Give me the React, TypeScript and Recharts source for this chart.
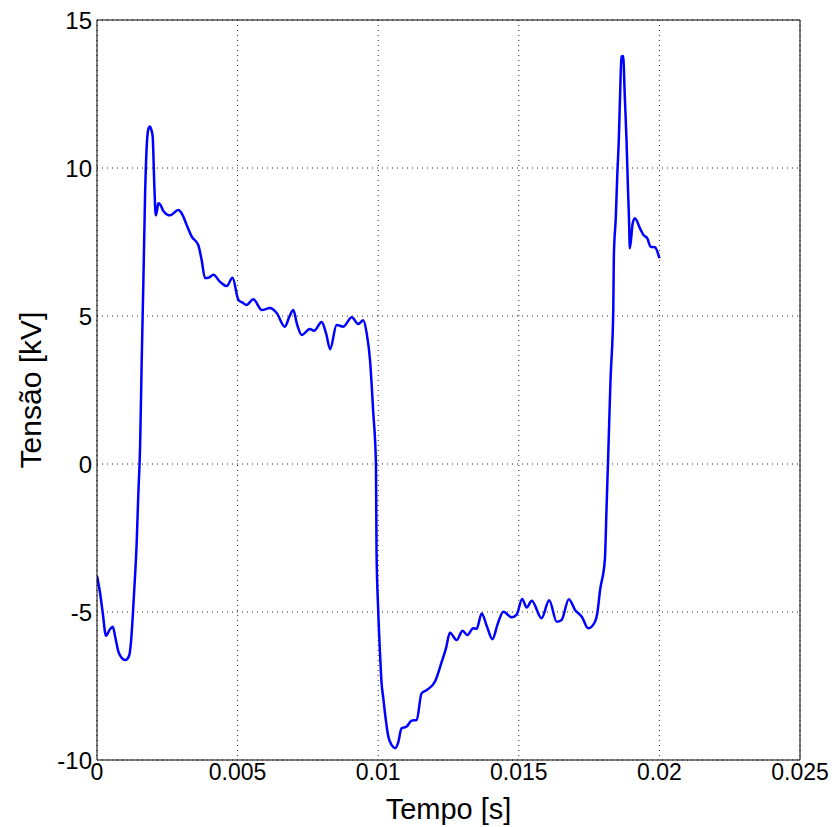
import {
  LineChart,
  Line,
  XAxis,
  YAxis,
  CartesianGrid,
  ReferenceLine,
} from "recharts";

// tempo [s]
const tempo = [
  0, 0.0001, 0.0002, 0.00032, 0.00045, 0.00056, 0.00066, 0.00076, 0.00088, 0.001,
  0.00108, 0.00115, 0.00121, 0.00127, 0.00134, 0.00141, 0.00147, 0.00153, 0.00159, 0.00165,
  0.00171, 0.00179, 0.00184, 0.00188, 0.00193, 0.00198, 0.00204, 0.00209, 0.00214, 0.00218,
  0.00226, 0.00236, 0.0026, 0.00289, 0.00305, 0.00319, 0.00337, 0.0036, 0.00372, 0.00384,
  0.00398, 0.00414, 0.00437, 0.00461, 0.00482, 0.00503, 0.00518, 0.00532, 0.00556, 0.00586,
  0.00615, 0.00639, 0.00668, 0.00685, 0.00698, 0.00712, 0.00728, 0.00757, 0.00772, 0.00799,
  0.00815, 0.00829, 0.00852, 0.00876, 0.00906, 0.00929, 0.00947, 0.00959, 0.00971, 0.00982,
  0.00992, 0.00994, 0.01, 0.01006, 0.01012, 0.01018, 0.01024, 0.01036, 0.01048, 0.0106,
  0.01071, 0.01083, 0.01101, 0.01119, 0.01137, 0.01154, 0.01172, 0.01202, 0.01226, 0.01241,
  0.01255, 0.01279, 0.013, 0.01317, 0.01338, 0.0135, 0.01368, 0.01387, 0.01406, 0.01425,
  0.01445, 0.01475, 0.01492, 0.01512, 0.01528, 0.01546, 0.01581, 0.01608, 0.01635, 0.01652,
  0.01678, 0.017, 0.01724, 0.01747, 0.01771, 0.01779, 0.01789, 0.01806, 0.01812, 0.01818,
  0.01826, 0.01836, 0.01838, 0.01845, 0.0185, 0.01856, 0.0186, 0.01865, 0.01871, 0.01877,
  0.01883, 0.01888, 0.01892, 0.01895, 0.01905, 0.01913, 0.01931, 0.01943, 0.01957, 0.01969,
  0.01984, 0.02,
];

// tensão [kV]
const tensao = [
  -3.78, -4.3, -5.0, -5.8, -5.6, -5.5, -5.9, -6.34, -6.55, -6.62,
  -6.58, -6.45, -6.0, -5.16, -4.0, -2.68, -1.0, 0.5, 3.5, 6.2,
  9.1, 11.06, 11.35, 11.4, 11.3, 11.06, 9.37, 8.4, 8.6, 8.81,
  8.75, 8.55, 8.4, 8.58, 8.4, 8.07, 7.68, 7.4, 6.9, 6.28,
  6.3, 6.39, 6.16, 6.01, 6.29, 5.54, 5.45, 5.37, 5.57, 5.2,
  5.27, 5.1, 4.64, 5.0, 5.2, 4.7, 4.36, 4.56, 4.5, 4.8,
  4.4, 3.88, 4.7, 4.64, 4.96, 4.73, 4.86, 4.42, 3.5, 1.8,
  0.0, -2.9, -4.93, -6.3, -7.4, -7.9, -8.41, -9.21, -9.5, -9.6,
  -9.41, -8.93, -8.87, -8.67, -8.65, -7.75, -7.64, -7.35, -6.68, -6.23,
  -5.7, -5.95, -5.63, -5.78, -5.55, -5.57, -5.05, -5.5, -5.92, -5.4,
  -4.99, -5.18, -5.1, -4.56, -4.85, -4.62, -5.21, -4.6, -5.33, -5.27,
  -4.57, -4.93, -5.16, -5.55, -5.33, -5.05, -4.26, -3.24, -1.5, 0.3,
  2.8, 5.2, 7.0, 8.35, 9.7, 11.06, 12.4, 13.76, 13.78, 12.4,
  10.95, 9.37, 8.24, 7.29, 8.13, 8.3, 7.96, 7.74, 7.62, 7.34,
  7.32, 6.95,
];

const xTicks = [0, 0.005, 0.01, 0.015, 0.02, 0.025];
const yTicks = [-10, -5, 0, 5, 10, 15];

const data = tempo.map((t, i) => ({ t, v: tensao[i] }));

const font = "Arial, 'Liberation Sans', Helvetica, sans-serif";

export default function App() {
  return (
    <div style={{ position: "absolute", left: 0, top: 0, background: "#fff" }}>
      <LineChart
        width={836}
        height={827}
        data={data}
        margin={{ top: 20, right: 36, left: 0, bottom: 0 }}
      >
        <CartesianGrid stroke="#222" strokeDasharray="1 4" />
        <XAxis
          dataKey="t"
          type="number"
          domain={[0, 0.025]}
          ticks={xTicks}
          allowDataOverflow
          height={67}
          tickLine={false}
          tickSize={3}
          tickMargin={1}
          axisLine={{ stroke: "#000" }}
          tick={{ fill: "#000", fontSize: 23, fontFamily: font }}
          label={{
            value: "Tempo [s]",
            position: "insideBottom",
            offset: 8,
            fill: "#000",
            fontSize: 29,
            fontFamily: font,
          }}
        />
        <YAxis
          type="number"
          domain={[-10, 15]}
          ticks={yTicks}
          allowDataOverflow
          width={97}
          tickLine={false}
          tickSize={3}
          tickMargin={2}
          axisLine={{ stroke: "#000" }}
          tick={{ fill: "#000", fontSize: 24, fontFamily: font }}
          label={{
            value: "Tensão [kV]",
            angle: -90,
            position: "center",
            dx: -18,
            fill: "#000",
            fontSize: 30,
            fontFamily: font,
          }}
        />
        <ReferenceLine y={15} stroke="#000" />
        <ReferenceLine x={0.025} stroke="#000" />
        <Line
          type="monotone"
          dataKey="v"
          stroke="#0000ff"
          strokeWidth={2.5}
          dot={false}
          isAnimationActive={false}
        />
      </LineChart>
    </div>
  );
}
